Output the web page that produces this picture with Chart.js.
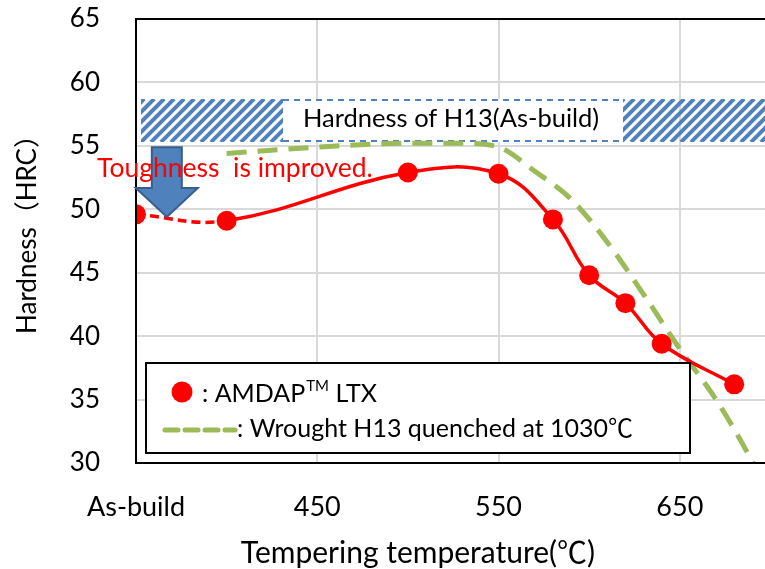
<!DOCTYPE html>
<html>
<head>
<meta charset="utf-8">
<title>Hardness vs tempering temperature</title>
<script src="https://cdn.jsdelivr.net/npm/chart.js@4.4.1/dist/chart.umd.min.js"></script>
<style>
  html, body { margin: 0; padding: 0; background: #fff; overflow: hidden; }
  #wrap { width: 765px; height: 569px; }
</style>
</head>
<body>
<div id="wrap"><canvas id="chart" width="765" height="569"></canvas></div>
<script>
// AMDAP LTX, 350 stands for the as-build state
const ltxTemps = [350, 400, 500, 550, 580, 600, 620, 640, 680];
const ltxHardness = [49.6, 49.1, 52.9, 52.8, 49.2, 44.8, 42.6, 39.4, 36.2];

// wrought H13 quenched at 1030C
const h13Temps = [400, 450, 500, 530, 550, 570, 590, 610, 630, 650, 670, 690, 700];
const h13Hardness = [54.4, 54.9, 55.2, 55.2, 54.9, 53.0, 50.8, 47.4, 43.3, 39.0, 35.0, 30.1, 27.2];

const xTicks = [350, 450, 550, 650];
const xTickLabels = ['As-build', '450', '550', '650'];
const yTicks = [30, 35, 40, 45, 50, 55, 60, 65];

// hardness range of as-build H13
const h13Band = [55.3, 58.7];
// arrow: temperature, from / to hardness
const arrowAt = [367, 54.9, 49.4];

const FONT = 'Lato, "Noto Sans CJK JP", sans-serif';
const RED = '#ff0000';
const GREEN = '#9bbb59';
const BLUE = '#4f81bd';

function pts(xs, ys) {
    return xs.map((x, i) => ({ x: x, y: ys[i] }));
}

// hatched band, arrow, note text, legend box and axis titles
const extras = {
    id: 'extras',
    beforeDatasetsDraw(chart) {
        const ctx = chart.ctx;
        const area = chart.chartArea;
        const y = chart.scales.y;
        const top = y.getPixelForValue(h13Band[1]);
        const bot = y.getPixelForValue(h13Band[0]);
        const left = area.left + 5;
        const right = area.right;

        ctx.save();
        ctx.beginPath();
        ctx.rect(left, top, right - left, bot - top);
        ctx.clip();
        ctx.strokeStyle = BLUE;
        ctx.lineWidth = 4;
        for (let x = left - 60; x < right + 60; x += 10) {
            ctx.beginPath();
            ctx.moveTo(x, bot);
            ctx.lineTo(x + (bot - top), top);
            ctx.stroke();
        }
        ctx.restore();

        // text box over the band
        ctx.save();
        ctx.fillStyle = '#fff';
        ctx.fillRect(283, top, 340, bot - top);
        ctx.strokeStyle = BLUE;
        ctx.lineWidth = 2;
        ctx.setLineDash([6, 5]);
        ctx.beginPath();
        ctx.moveTo(283, top + 1); ctx.lineTo(623, top + 1);
        ctx.moveTo(283, bot - 1); ctx.lineTo(623, bot - 1);
        ctx.stroke();
        ctx.setLineDash([]);
        ctx.fillStyle = '#000';
        ctx.font = '25.5px ' + FONT;
        ctx.textBaseline = 'alphabetic';
        ctx.fillText('Hardness of H13(As-build)', 303, 127);
        ctx.restore();
    },
    afterDatasetsDraw(chart) {
        const ctx = chart.ctx;
        const area = chart.chartArea;
        const xs = chart.scales.x;
        const ys = chart.scales.y;

        // plot frame
        ctx.save();
        ctx.strokeStyle = '#000';
        ctx.lineWidth = 2;
        ctx.strokeRect(area.left, area.top, area.right - area.left + 5, area.bottom - area.top);
        ctx.restore();

        // down arrow
        const ax = xs.getPixelForValue(arrowAt[0]);
        const aTop = ys.getPixelForValue(arrowAt[1]);
        const aTip = ys.getPixelForValue(arrowAt[2]);
        const neck = aTip - 29;
        ctx.save();
        ctx.beginPath();
        ctx.moveTo(ax - 15, aTop);
        ctx.lineTo(ax + 15, aTop);
        ctx.lineTo(ax + 15, neck);
        ctx.lineTo(ax + 31, neck);
        ctx.lineTo(ax, aTip);
        ctx.lineTo(ax - 31, neck);
        ctx.lineTo(ax - 15, neck);
        ctx.closePath();
        ctx.fillStyle = BLUE;
        ctx.fill();
        ctx.strokeStyle = '#385d8a';
        ctx.lineWidth = 2;
        ctx.stroke();

        ctx.fillStyle = RED;
        ctx.font = '26.5px ' + FONT;
        ctx.fillText('Toughness  is improved.', 97, 177);
        ctx.restore();

        // legend box
        ctx.save();
        ctx.fillStyle = '#fff';
        ctx.fillRect(146, 363, 544, 90);
        ctx.strokeStyle = '#000';
        ctx.lineWidth = 2;
        ctx.strokeRect(146, 363, 544, 90);

        ctx.fillStyle = RED;
        ctx.beginPath();
        ctx.arc(182, 392, 10.5, 0, Math.PI * 2);
        ctx.fill();

        ctx.fillStyle = '#000';
        ctx.font = '25px ' + FONT;
        ctx.fillText(': AMDAP', 202, 402);
        let x = 202 + ctx.measureText(': AMDAP').width + 1;
        ctx.font = '15px ' + FONT;
        ctx.fillText('TM', x, 391);
        x += ctx.measureText('TM').width;
        ctx.font = '25px ' + FONT;
        ctx.fillText(' LTX', x, 402);

        ctx.strokeStyle = GREEN;
        ctx.lineWidth = 5;
        ctx.lineCap = 'round';
        ctx.setLineDash([13, 7]);
        ctx.beginPath();
        ctx.moveTo(165, 430);
        ctx.lineTo(235, 430);
        ctx.stroke();
        ctx.setLineDash([]);
        ctx.fillText(': Wrought H13 quenched at 1030℃', 237, 437);
        ctx.restore();

        // axis titles
        ctx.save();
        ctx.fillStyle = '#000';
        ctx.font = '30px ' + FONT;
        ctx.textAlign = 'center';
        ctx.textBaseline = 'middle';
        ctx.fillText('Tempering temperature(℃)', 418, 553);
        ctx.font = '26px ' + FONT;
        ctx.translate(28, 228);
        ctx.rotate(-Math.PI / 2);
        ctx.fillText('Hardness（HRC）', 0, 0);
        ctx.restore();
    }
};

const chart = new Chart(document.getElementById('chart'), {
    type: 'line',
    data: {
        datasets: [
            {
                label: 'AMDAP LTX',
                data: pts(ltxTemps, ltxHardness),
                borderColor: RED,
                backgroundColor: RED,
                borderWidth: 3.5,
                tension: 0.4,
                pointRadius: 10,
                pointBorderWidth: 0,
                pointBackgroundColor: RED,
                segment: {
                    borderDash: c => c.p0DataIndex === 0 ? [9, 5] : undefined
                }
            },
            {
                label: 'Wrought H13 quenched at 1030℃',
                data: pts(h13Temps, h13Hardness),
                borderColor: GREEN,
                borderWidth: 5,
                borderDash: [20, 11],
                cubicInterpolationMode: 'monotone',
                pointRadius: 0
            }
        ]
    },
    options: {
        responsive: false,
        animation: false,
        devicePixelRatio: 1,
        layout: { autoPadding: false, padding: { top: 19, right: 0, left: 0, bottom: 0 } },
        plugins: {
            legend: { display: false },
            tooltip: { enabled: false }
        },
        scales: {
            x: {
                type: 'linear',
                min: 350,
                max: 697,
                afterBuildTicks: s => { s.ticks = xTicks.map(v => ({ value: v })); },
                afterFit: s => { s.height = 106; s.paddingLeft = 0; s.paddingRight = 0; },
                grid: { color: '#d9d9d9', lineWidth: 2, drawTicks: false },
                border: { display: false },
                ticks: {
                    padding: 28,
                    color: '#000',
                    font: { family: FONT, size: 27 },
                    maxRotation: 0,
                    callback: v => xTickLabels[xTicks.indexOf(v)]
                }
            },
            y: {
                min: 30,
                max: 65,
                afterBuildTicks: s => { s.ticks = yTicks.map(v => ({ value: v })); },
                afterFit: s => { s.width = 136; s.paddingTop = 0; s.paddingBottom = 0; },
                grid: { color: '#d9d9d9', lineWidth: 2, drawTicks: false },
                border: { display: false },
                ticks: {
                    padding: 36,
                    color: '#000',
                    font: { family: FONT, size: 26 }
                }
            }
        }
    },
    plugins: [extras]
});
</script>
</body>
</html>
